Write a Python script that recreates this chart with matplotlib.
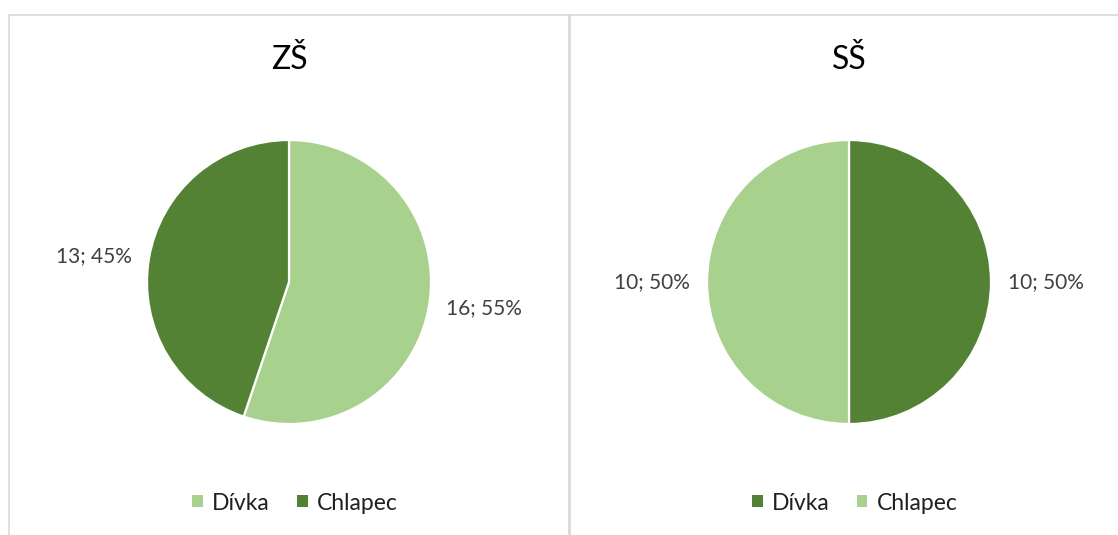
import matplotlib.pyplot as plt
import matplotlib.patches as mpatches
from matplotlib.lines import Line2D

# data
titles = ["ZŠ", "SŠ"]
categories = ["Dívka", "Chlapec"]
zs_values = [16, 13]
ss_values = [10, 10]
zs_colors = ["#A9D18E", "#548235"]
ss_colors = ["#548235", "#A9D18E"]

W, H = 1118, 535
plt.rcParams["font.family"] = ["Lato", "DejaVu Sans"]

fig = plt.figure(figsize=(W / 100, H / 100), dpi=100)


def px_axes(cx, cy, r):
    # square axes centred on pixel (cx, cy) with radius r px
    return fig.add_axes([(cx - r) / W, (H - cy - r) / H, 2 * r / W, 2 * r / H])


def draw_panel(cx, title, values, colors):
    ax = px_axes(cx, 282, 142)
    total = sum(values)
    labels = [f"{v}; {round(100 * v / total)}%" for v in values]
    wedges, texts = ax.pie(values, colors=colors, startangle=90, counterclock=False,
                           labels=labels, labeldistance=1.12,
                           wedgeprops=dict(edgecolor="white", linewidth=1.6),
                           textprops=dict(fontsize=15, color="#404040"))
    ax.set_xlim(-1, 1)
    ax.set_ylim(-1, 1)
    ax.set_aspect("equal")
    for t in texts:
        t.set_clip_on(False)
    fig.text(cx / W, 1 - 60 / H, title, ha="center", va="center", fontsize=23, color="#000000")
    handles = [mpatches.Patch(facecolor=c, edgecolor="none") for c in colors]
    fig.legend(handles, categories, loc="center", bbox_to_anchor=((cx + 6) / W, 1 - 503 / H),
               bbox_transform=fig.transFigure, ncol=2, frameon=False, fontsize=16.5,
               handlelength=0.45, handleheight=0.45, handletextpad=0.4, columnspacing=1.2,
               labelcolor="#202020")


draw_panel(289, titles[0], zs_values, zs_colors)
draw_panel(849, titles[1], ss_values, ss_colors)

# chart borders
border = "#d9d9d9"
fig.add_artist(Line2D([9 / W, 9 / W], [0, 1 - 15 / H], color=border, lw=1.2, transform=fig.transFigure))
fig.add_artist(Line2D([9 / W, 1], [1 - 15 / H, 1 - 15 / H], color=border, lw=1.2, transform=fig.transFigure))
fig.add_artist(Line2D([569 / W, 569 / W], [0, 1 - 15 / H], color=border, lw=2.0, transform=fig.transFigure))

fig.savefig("out.png", dpi=100, facecolor="white")
